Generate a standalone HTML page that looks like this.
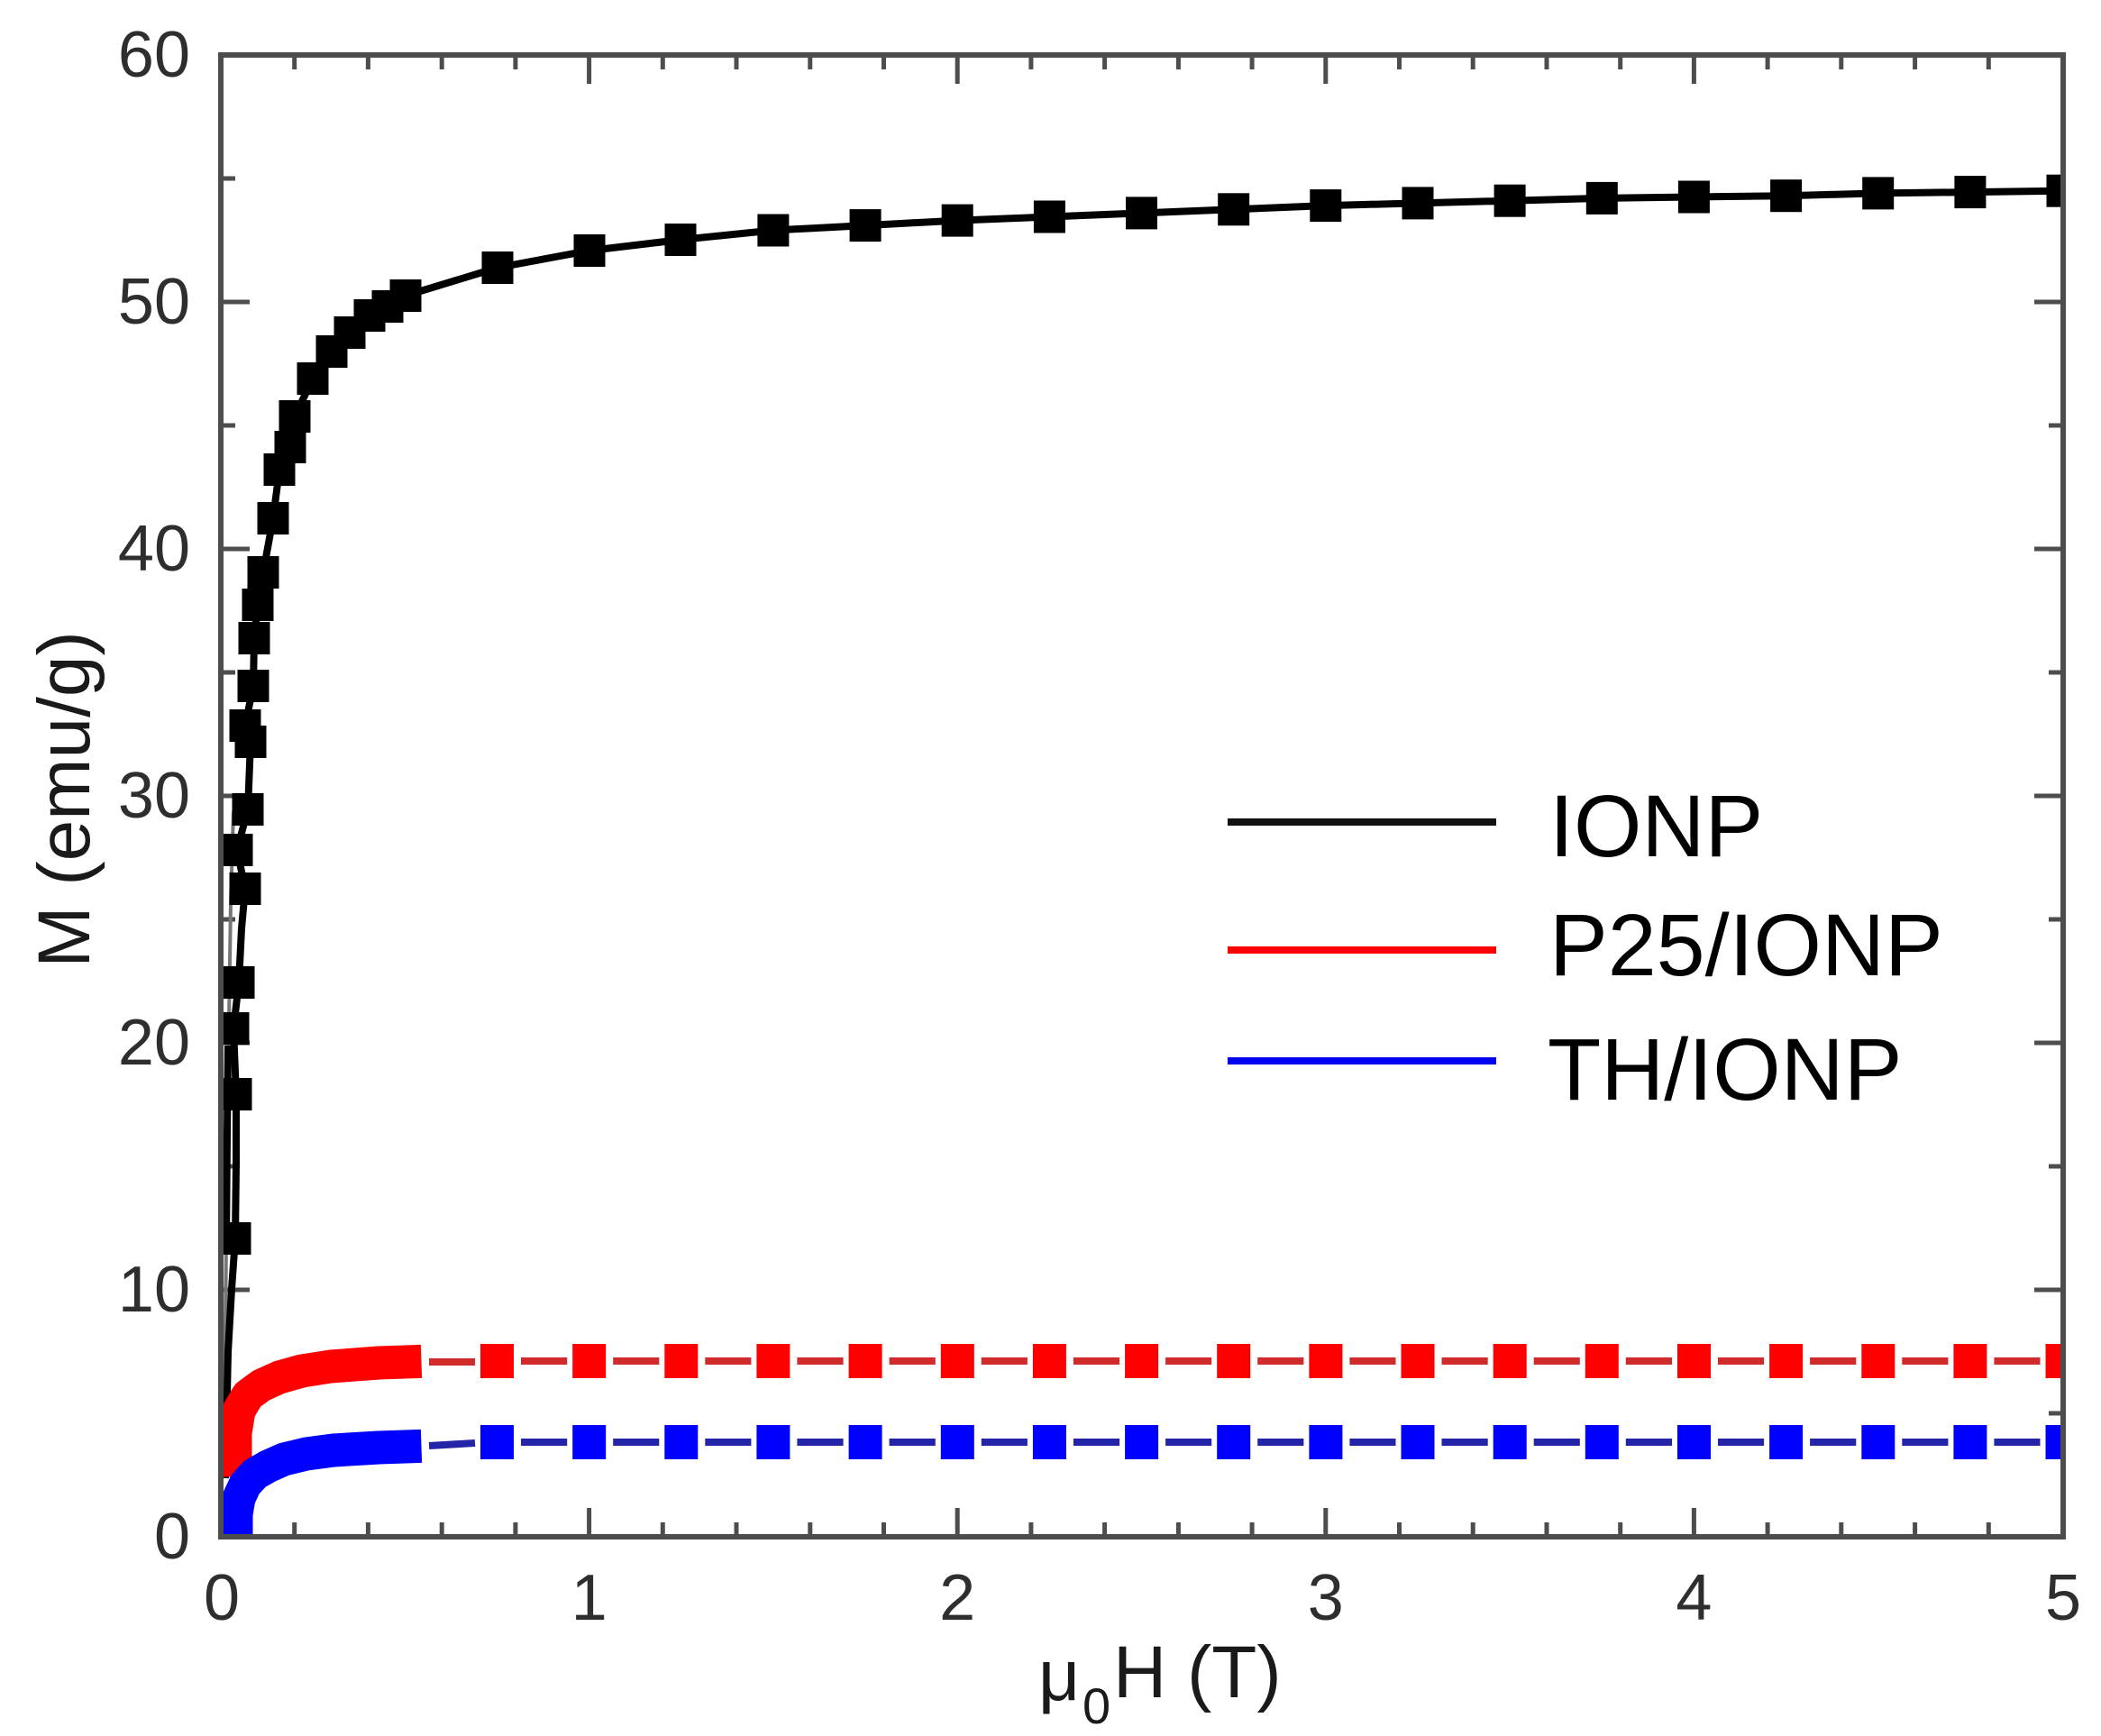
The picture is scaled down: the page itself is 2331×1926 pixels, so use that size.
<!DOCTYPE html>
<html>
<head>
<meta charset="utf-8">
<style>
html,body{margin:0;padding:0;background:#fff;}
svg{display:block;}
text{font-family:"Liberation Sans",Arial,sans-serif;}
</style>
</head>
<body>
<svg width="2331" height="1926" viewBox="0 0 2331 1926" xmlns="http://www.w3.org/2000/svg">
<defs>
<clipPath id="plot"><rect x="245" y="61" width="2044" height="1644"/></clipPath>
</defs>
<rect x="0" y="0" width="2331" height="1926" fill="#fff"/>

<g stroke="#4d4d4d" stroke-width="5" fill="none">
<path d="M653.6 1705v-32M1062.2 1705v-32M1470.8 1705v-32M1879.4 1705v-32
M653.6 61v32M1062.2 61v32M1470.8 61v32M1879.4 61v32
M245 1431h32M245 1157h32M245 883h32M245 609h32M245 335h32
M2289 1431h-32M2289 1157h-32M2289 883h-32M2289 609h-32M2289 335h-32"/>
<path d="M326.7 1705v-16M408.4 1705v-16M490.2 1705v-16M571.9 1705v-16
M735.3 1705v-16M817 1705v-16M898.8 1705v-16M980.5 1705v-16
M1143.9 1705v-16M1225.6 1705v-16M1307.4 1705v-16M1389.1 1705v-16
M1552.5 1705v-16M1634.2 1705v-16M1716 1705v-16M1797.7 1705v-16
M1961.1 1705v-16M2042.8 1705v-16M2124.6 1705v-16M2206.3 1705v-16
M326.7 61v16M408.4 61v16M490.2 61v16M571.9 61v16
M735.3 61v16M817 61v16M898.8 61v16M980.5 61v16
M1143.9 61v16M1225.6 61v16M1307.4 61v16M1389.1 61v16
M1552.5 61v16M1634.2 61v16M1716 61v16M1797.7 61v16
M1961.1 61v16M2042.8 61v16M2124.6 61v16M2206.3 61v16
M245 1568h16M245 1294h16M245 1020h16M245 746h16M245 472h16M245 198h16
M2289 1568h-16M2289 1294h-16M2289 1020h-16M2289 746h-16M2289 472h-16M2289 198h-16"/>
</g>

<g font-size="72" fill="#2e2e2e" text-anchor="end">
<text x="211" y="1729">0</text>
<text x="211" y="1455">10</text>
<text x="211" y="1181">20</text>
<text x="211" y="907">30</text>
<text x="211" y="633">40</text>
<text x="211" y="359">50</text>
<text x="211" y="85">60</text>
</g>
<g font-size="72" fill="#2e2e2e" text-anchor="middle">
<text x="246" y="1797">0</text>
<text x="653.6" y="1797">1</text>
<text x="1062.2" y="1797">2</text>
<text x="1470.8" y="1797">3</text>
<text x="1879.4" y="1797">4</text>
<text x="2289" y="1797">5</text>
</g>

<text transform="translate(99,887) rotate(-90)" text-anchor="middle" font-size="82" fill="#1a1a1a">M (emu/g)</text>
<text x="1152" y="1886" font-size="80" fill="#1a1a1a">μ</text>
<text x="1201" y="1912" font-size="56" fill="#1a1a1a">0</text>
<text x="1235" y="1883" font-size="82" fill="#1a1a1a">H (T)</text>

<g clip-path="url(#plot)">
<polyline fill="none" stroke="#777" stroke-width="4" points="249,1560 251,1380 253,1200 256,1000 259,900"/>
<polyline fill="none" stroke="#000" stroke-width="8" points="251,1380 252,1260 253,1160"/>
<polyline fill="none" stroke="#000" stroke-width="8" stroke-linejoin="round" points="250,1640 253,1500 257,1430 261,1374 262,1290 262,1214 259,1141 265,1090 268,1030 272,986 263,943 275,898 278,823 272,805 281,761 282,708 286,671 292,635 303,575 310,521 322,496 327,462 347,420 368,390 388,369 410,350 430,340 450,328 552,297 654,278 755,266 857.9,255.5 960.1,250.1 1062.2,244.6 1164.4,240.5 1266.5,236.4 1368.7,232.3 1470.8,228.1 1573,225.4 1675.1,222.7 1777.3,219.9 1879.4,218.5 1981.6,217.2 2083.7,214.4 2185.9,213.1 2288,211.7"/>
<g fill="#000">
<rect x="243.5" y="1356" width="35" height="36"/>
<rect x="244.5" y="1196" width="35" height="36"/>
<rect x="241.5" y="1123" width="35" height="36"/>
<rect x="247.5" y="1072" width="35" height="36"/>
<rect x="254.5" y="968" width="35" height="36"/>
<rect x="245.5" y="925" width="35" height="36"/>
<rect x="257.5" y="880" width="35" height="36"/>
<rect x="260.5" y="805" width="35" height="36"/>
<rect x="254.5" y="787" width="35" height="36"/>
<rect x="263.5" y="743" width="35" height="36"/>
<rect x="264.5" y="690" width="35" height="36"/>
<rect x="268.5" y="653" width="35" height="36"/>
<rect x="274.5" y="617" width="35" height="36"/>
<rect x="285.5" y="557" width="35" height="36"/>
<rect x="292.5" y="503" width="35" height="36"/>
<rect x="304.5" y="478" width="35" height="36"/>
<rect x="309.5" y="444" width="35" height="36"/>
<rect x="329.5" y="402" width="35" height="36"/>
<rect x="350.5" y="372" width="35" height="36"/>
<rect x="370.5" y="351" width="35" height="36"/>
<rect x="392.5" y="332" width="35" height="36"/>
<rect x="412.5" y="322" width="35" height="36"/>
<rect x="432.5" y="310" width="35" height="36"/>
<rect x="534.5" y="279" width="35" height="36"/>
<rect x="636.5" y="260" width="35" height="36"/>
<rect x="737.5" y="248" width="35" height="36"/>
<rect x="840.4" y="237.5" width="35" height="36"/>
<rect x="942.6" y="232.1" width="35" height="36"/>
<rect x="1044.7" y="226.6" width="35" height="36"/>
<rect x="1146.9" y="222.5" width="35" height="36"/>
<rect x="1249" y="218.4" width="35" height="36"/>
<rect x="1351.2" y="214.3" width="35" height="36"/>
<rect x="1453.3" y="210.1" width="35" height="36"/>
<rect x="1555.5" y="207.4" width="35" height="36"/>
<rect x="1657.6" y="204.7" width="35" height="36"/>
<rect x="1759.8" y="201.9" width="35" height="36"/>
<rect x="1861.9" y="200.5" width="35" height="36"/>
<rect x="1964.1" y="199.2" width="35" height="36"/>
<rect x="2066.2" y="196.4" width="35" height="36"/>
<rect x="2168.4" y="195.1" width="35" height="36"/>
<rect x="2270.5" y="193.7" width="35" height="36"/>
</g>

<polyline fill="none" stroke="#ff0000" stroke-width="37" stroke-linecap="square" stroke-linejoin="round" points="261,1620 261,1590 265,1565 275,1548 290,1537 310,1528 335,1521 367,1516 420,1512 449,1511"/>
<path stroke="#d02a2a" stroke-width="8" fill="none" d="M476 1511H527M578 1510H629.2M680.2 1510H731.3M782.3 1510H833.4M884.4 1510H935.6M986.6 1510H1037.8M1088.8 1510H1139.9M1190.9 1510H1242.1M1293.1 1510H1344.2M1395.2 1510H1446.4M1497.4 1510H1548.5M1599.5 1510H1650.7M1701.7 1510H1752.8M1803.8 1510H1855M1906 1510H1957.1M2008.1 1510H2059.3M2110.3 1510H2161.4M2212.4 1510H2263.5"/>
<g fill="#ff0000">
<rect x="533" y="1491" width="37" height="38"/>
<rect x="635.2" y="1491" width="37" height="38"/>
<rect x="737.3" y="1491" width="37" height="38"/>
<rect x="839.4" y="1491" width="37" height="38"/>
<rect x="941.6" y="1491" width="37" height="38"/>
<rect x="1043.8" y="1491" width="37" height="38"/>
<rect x="1145.9" y="1491" width="37" height="38"/>
<rect x="1248.1" y="1491" width="37" height="38"/>
<rect x="1350.2" y="1491" width="37" height="38"/>
<rect x="1452.4" y="1491" width="37" height="38"/>
<rect x="1554.5" y="1491" width="37" height="38"/>
<rect x="1656.7" y="1491" width="37" height="38"/>
<rect x="1758.8" y="1491" width="37" height="38"/>
<rect x="1861" y="1491" width="37" height="38"/>
<rect x="1963.1" y="1491" width="37" height="38"/>
<rect x="2065.3" y="1491" width="37" height="38"/>
<rect x="2167.4" y="1491" width="37" height="38"/>
<rect x="2269.5" y="1491" width="37" height="38"/>
</g>

<polyline fill="none" stroke="#0000ff" stroke-width="37" stroke-linecap="square" stroke-linejoin="round" points="262,1690 262,1680 265,1662 272,1647 283,1635 297,1627 315,1619 340,1613 370,1609 420,1606 449,1605"/>
<path stroke="#2424a8" stroke-width="8" fill="none" d="M476 1604L527 1601M578 1600H629.2M680.2 1600H731.3M782.3 1600H833.4M884.4 1600H935.6M986.6 1600H1037.8M1088.8 1600H1139.9M1190.9 1600H1242.1M1293.1 1600H1344.2M1395.2 1600H1446.4M1497.4 1600H1548.5M1599.5 1600H1650.7M1701.7 1600H1752.8M1803.8 1600H1855M1906 1600H1957.1M2008.1 1600H2059.3M2110.3 1600H2161.4M2212.4 1600H2263.5"/>
<g fill="#0000ff">
<rect x="533" y="1581" width="37" height="38"/>
<rect x="635.2" y="1581" width="37" height="38"/>
<rect x="737.3" y="1581" width="37" height="38"/>
<rect x="839.4" y="1581" width="37" height="38"/>
<rect x="941.6" y="1581" width="37" height="38"/>
<rect x="1043.8" y="1581" width="37" height="38"/>
<rect x="1145.9" y="1581" width="37" height="38"/>
<rect x="1248.1" y="1581" width="37" height="38"/>
<rect x="1350.2" y="1581" width="37" height="38"/>
<rect x="1452.4" y="1581" width="37" height="38"/>
<rect x="1554.5" y="1581" width="37" height="38"/>
<rect x="1656.7" y="1581" width="37" height="38"/>
<rect x="1758.8" y="1581" width="37" height="38"/>
<rect x="1861" y="1581" width="37" height="38"/>
<rect x="1963.1" y="1581" width="37" height="38"/>
<rect x="2065.3" y="1581" width="37" height="38"/>
<rect x="2167.4" y="1581" width="37" height="38"/>
<rect x="2269.5" y="1581" width="37" height="38"/>
</g>
</g>

<rect x="245" y="61" width="2044" height="1644" fill="none" stroke="#4d4d4d" stroke-width="6"/>

<line x1="1362" y1="912" x2="1660" y2="912" stroke="#111" stroke-width="8"/>
<line x1="1362" y1="1054" x2="1660" y2="1054" stroke="#ff0000" stroke-width="8"/>
<line x1="1362" y1="1177" x2="1660" y2="1177" stroke="#0000f0" stroke-width="8"/>
<g font-size="97" fill="#000">
<text x="1719" y="950">IONP</text>
<text x="1719" y="1082">P25/IONP</text>
<text x="1717" y="1220">TH/IONP</text>
</g>
</svg>
</body>
</html>
